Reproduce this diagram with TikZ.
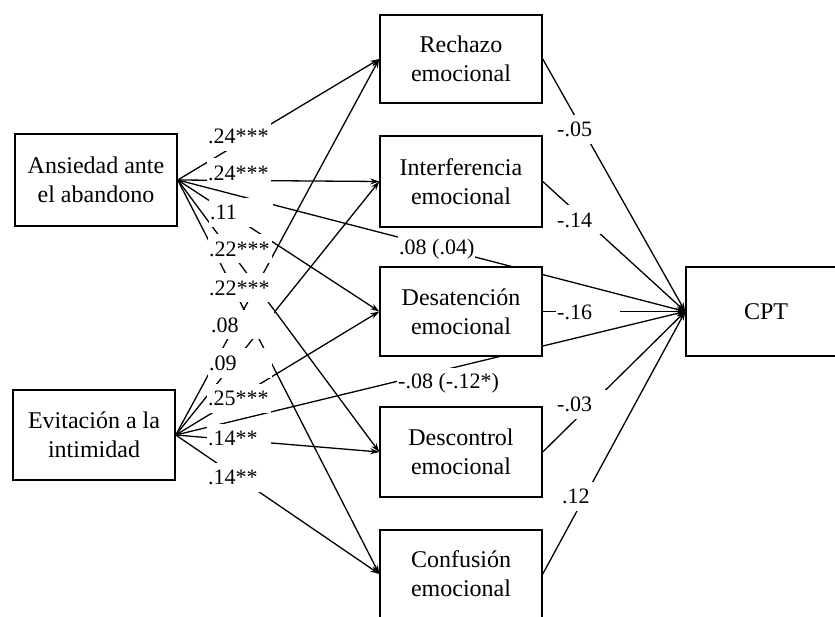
\documentclass[tikz,border=0pt]{standalone}
\usepackage{fontspec}
\setmainfont{Liberation Serif}
\usetikzlibrary{arrows.meta}
\pgfdeclarelayer{edges}
\pgfsetlayers{edges,main}
\tikzset{
  box/.style={draw, line width=1.5pt, fill=white, minimum width=162pt,
    inner sep=0pt, align=center, font=\fontsize{24}{29}\selectfont},
  link/.style={line width=1.3pt, -{Stealth[length=9pt,width=6pt]}},
  coefwide/.style={fill=white, inner xsep=1pt, inner ysep=0pt,
    minimum height=29pt, anchor=west, font=\fontsize{22}{26}\selectfont},
  coef/.style={coefwide, text width=62pt, align=left}
}
\begin{document}
\begin{tikzpicture}[x=1pt, y=-1pt]
\useasboundingbox (0,0) rectangle (835,617);
\clip (0,0) rectangle (835,617);

% predictors
\node[box, minimum height=92pt] (anx) at (96,180) {Ansiedad ante\\el abandono};
\node[box, minimum height=90pt] (evi) at (94,435) {Evitación a la\\intimidad};

% mediators
\node[box, minimum height=88pt] (rech)   at (461,59)    {Rechazo\\emocional};
\node[box, minimum height=91pt] (inter)  at (461,181.5) {Interferencia\\emocional};
\node[box, minimum height=89pt] (desat)  at (461,311.5) {Desatención\\emocional};
\node[box, minimum height=90pt] (descon) at (461,452)   {Descontrol\\emocional};
\node[box, minimum height=88pt] (conf)   at (461,574)   {Confusión\\emocional};

% outcome
\node[box, minimum width=160pt, minimum height=89pt] (cpt) at (766,311.5) {CPT};

\begin{pgfonlayer}{edges}
  \foreach \m in {rech,inter,desat,descon,conf}{
    \draw[link] (anx.east) -- (\m.west);
    \draw[link] (evi.east) -- (\m.west);
    \draw[link] (\m.east) -- (cpt.west);
  }
  \draw[link] (anx.east) -- (cpt.west);
  \draw[link] (evi.east) -- (cpt.west);
\end{pgfonlayer}

% path coefficients, predictors to mediators
\node[coef] (c1)  at (207,136.5) {.24***};
\node[coef] (c2)  at (207,173)   {.24***};
\node[coef] (c3)  at (209,212.5) {.11};
\node[coef] (c4)  at (208,249)   {.22***};
\node[coef] (c5)  at (208,288)   {.22***};
\node[coef] (c6)  at (210,325)   {.08};
\node[coef] (c7)  at (208,363)   {.09};
\node[coef] (c8)  at (207,398)   {.25***};
\node[coef] (c9)  at (207,438)   {.14**};
\node[coef] (c10) at (207,477)   {.14**};

% direct and total effects on CPT
\node[coefwide] (d1) at (398,249) {.08 (.04)};
\node[coefwide] (d2) at (397,383) {-.08 (-.12*)};

% mediators to CPT
\node[coef] (m1) at (556,129.5) {-.05};
\node[coef] (m2) at (556,220)   {-.14};
\node[coef] (m3) at (556,312)   {-.16};
\node[coef] (m4) at (556,404)   {-.03};
\node[coef] (m5) at (561,496)   {.12};
\end{tikzpicture}
\end{document}
